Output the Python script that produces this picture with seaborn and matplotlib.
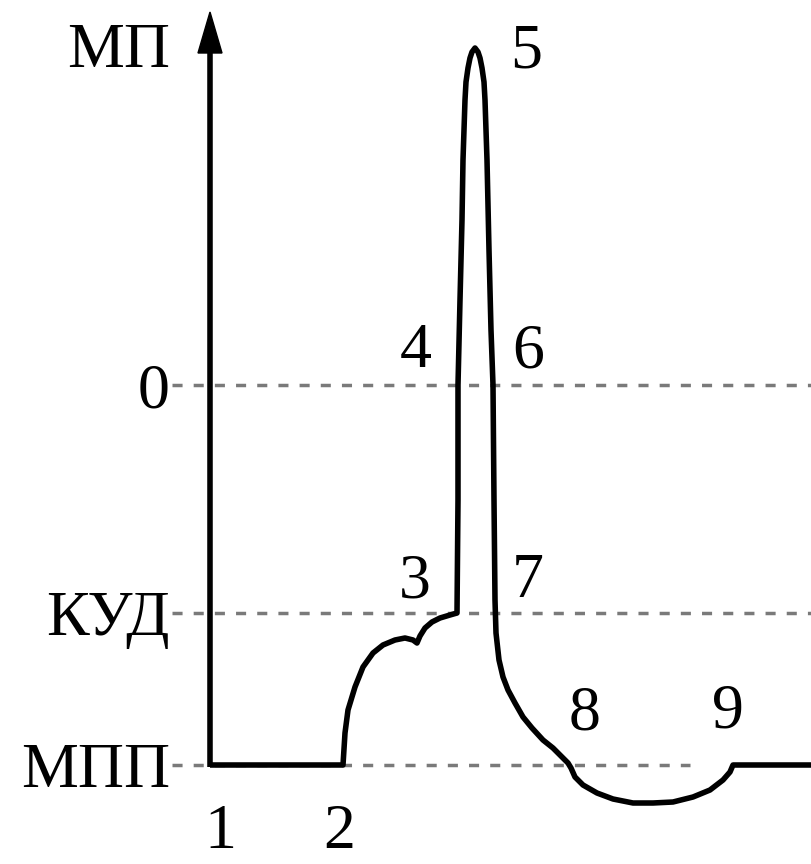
import matplotlib
matplotlib.use("Agg")
import matplotlib.pyplot as plt
from matplotlib.patches import Polygon
import seaborn as sns
import pandas as pd

# Membrane potential trace (time units across, potential units down the page)
trace_t = [210, 343,
           # slow depolarisation towards threshold
           343, 345, 348, 355, 363, 373, 383, 395, 405, 413, 417,
           420, 425, 432, 440, 450, 457,
           # spike
           457, 458, 458, 460, 462, 463, 464, 465, 466, 468, 470, 472, 475,
           478, 480, 482, 484, 485, 486, 487, 489, 491, 493, 494, 495,
           # repolarisation
           496, 499, 503, 508, 515, 523, 532, 543, 553, 562, 568,
           # trace hyperpolarisation
           571, 575, 583, 597, 613, 633, 653, 673, 693, 710, 723, 730, 733, 740, 811]
trace_v = [765, 765,
           765, 733, 710, 687, 667, 653, 645, 640, 638, 640, 643,
           636, 628, 622, 618, 615, 613,
           613, 500, 385, 300, 220, 160, 130, 100, 82, 68, 58, 52, 48,
           52, 58, 68, 82, 100, 130, 160, 250, 330, 385, 500, 600,
           633, 660, 677, 690, 703, 717, 728, 740, 748, 757, 763,
           768, 777, 785, 793, 799, 803, 803, 802, 797, 790, 780, 772, 765, 765, 765]

# Reference potential levels and their labels
level_names = ["МП", "0", "КУД", "МПП"]
level_y = [45, 385, 613, 765]

# Phase markers along the trace
phase_labels = ["1", "2", "3", "4", "5", "6", "7", "8", "9"]
phase_x = [220, 339, 415, 416, 526, 528, 528, 585, 728]
phase_y = [835, 835, 575, 345, 45, 345, 575, 708, 705]

sns.set_theme(style="white")
plt.rcParams["font.family"] = ["Liberation Serif", "DejaVu Serif"]

fig = plt.figure(figsize=(8.11, 8.64), dpi=100)
ax = fig.add_axes([0, 0, 1, 1])

gray = "#7a7a7a"
dash = [(0, (2.9, 3.2))]
ax.hlines([level_y[1], level_y[2]], 172, 811, colors=gray, lw=2.5,
          linestyles=dash, zorder=1)
ax.hlines(level_y[3], 172, 690, colors=gray, lw=2.5, linestyles=dash, zorder=1)

# Potential axis with arrowhead
ax.plot([210, 210], [767, 45], color="black", lw=4.0, solid_capstyle="butt", zorder=3)
ax.add_patch(Polygon([[210, 12], [198, 53], [222, 53]], closed=True,
                     facecolor="black", edgecolor="black", lw=1, zorder=3))

df = pd.DataFrame({"t": trace_t, "v": trace_v})
sns.lineplot(data=df, x="t", y="v", sort=False, estimator=None, color="black",
             lw=4.0, ax=ax, zorder=4)
ax.lines[-1].set_solid_joinstyle("round")
ax.lines[-1].set_solid_capstyle("butt")

ax.set_xlim(0, 811)
ax.set_ylim(864, 0)
ax.axis("off")

for name, y in zip(level_names, level_y):
    ax.text(170, y, name, fontsize=46, ha="right", va="center_baseline", color="black")

for lab, x, y in zip(phase_labels, phase_x, phase_y):
    if y > 800:
        # bottom row: anchor to the lower edge so the glyphs stay inside
        ax.text(x, 862, lab, fontsize=46, ha="center", va="bottom", color="black")
    else:
        ax.text(x, y, lab, fontsize=46, ha="center", va="center_baseline", color="black")

fig.savefig("out.png", dpi=100, facecolor="white")
